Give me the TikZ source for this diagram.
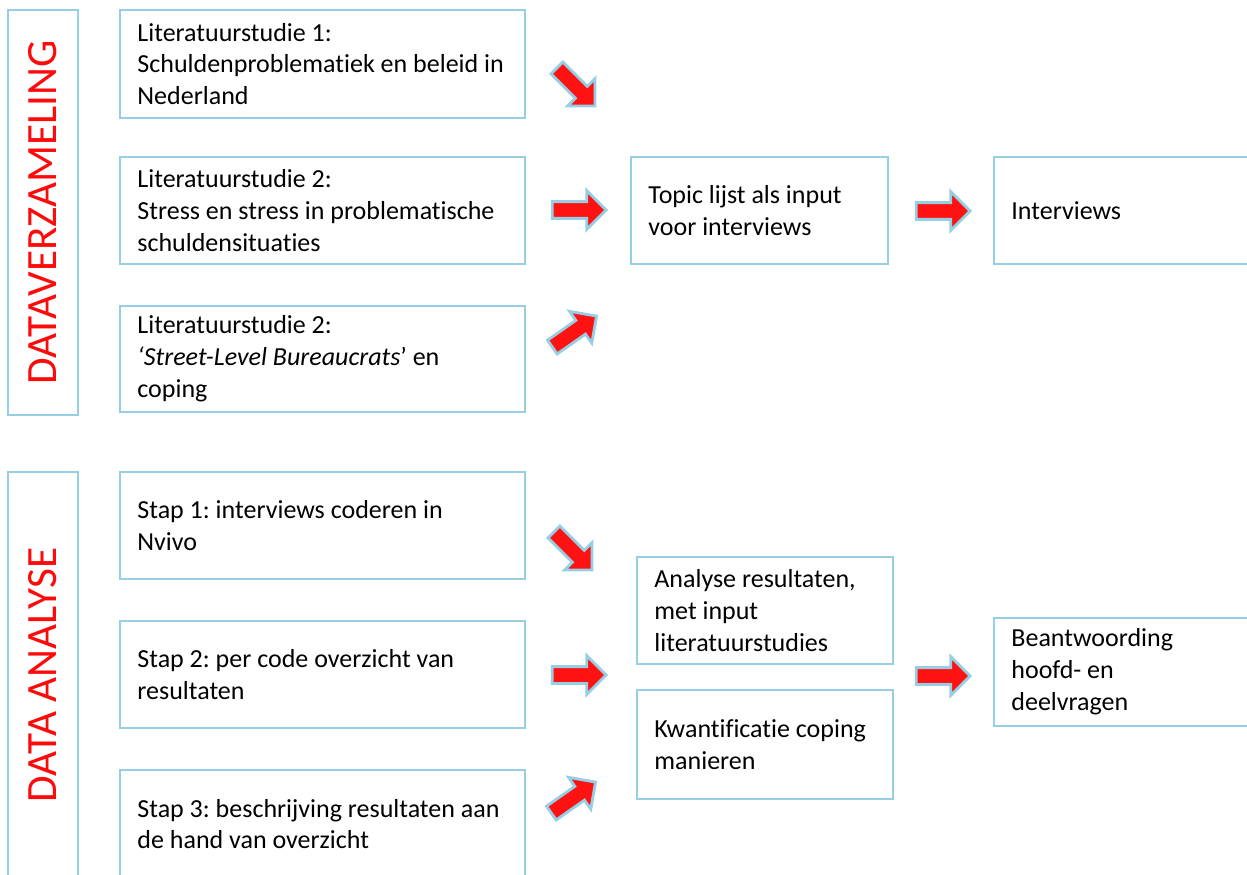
\documentclass[tikz,border=0pt]{standalone}
\usepackage{fontspec}
\setmainfont{Carlito}[Ligatures=NoCommon]
\usetikzlibrary{shapes.arrows}
\definecolor{rand}{RGB}{150,206,228}
\definecolor{pijlrood}{RGB}{255,18,18}
\definecolor{koprood}{RGB}{255,10,10}
\frenchspacing

\begin{document}
\begin{tikzpicture}[x=0.02cm,y=-0.02cm,
  vak/.style={draw=rand,line width=1.1pt,fill=white,minimum height=2.14cm},
  breed/.style={vak,minimum width=8.1cm},
  smal/.style={vak,minimum width=5.14cm},
  tekst/.style={anchor=west,align=left,inner sep=0pt,
    font=\fontsize{14.8}{18.1}\selectfont},
  zijvak/.style={draw=rand,line width=1.1pt,minimum width=1.4cm},
  zijtekst/.style={text=koprood,font=\fontsize{24.6}{28}\selectfont,rotate=90},
  pijl/.style={single arrow,draw=rand,fill=pijlrood,line width=1.6pt,
    inner xsep=0pt,inner ysep=0.14cm,minimum height=1.08cm,
    single arrow head extend=0.22cm,single arrow tip angle=90}]
  \useasboundingbox (0,0) rectangle (1247,875);
  \clip (0,0) rectangle (1247,875);

  % dataverzameling
  \node[zijvak,minimum height=8.1cm] (verz) at (43,212.5) {};
  \node[zijtekst] (verzlabel) at (verz.center) {DATAVERZAMELING};
  \node[breed,minimum height=2.16cm] (lit1) at (322.5,64) {};
  \node[tekst] (lit1t) at ([xshift=0.36cm]lit1.west) {Literatuurstudie 1:\\Schuldenproblematiek en beleid in\\Nederland};
  \node[breed] (lit2) at (322.5,210.5) {};
  \node[tekst] (lit2t) at ([xshift=0.36cm]lit2.west) {Literatuurstudie 2:\\Stress en stress in problematische\\schuldensituaties};
  \node[breed,minimum height=2.12cm] (lit3) at (322.5,359) {};
  \node[tekst] (lit3t) at ([xshift=0.36cm]lit3.west) {Literatuurstudie 2:\\\textit{‘Street-Level Bureaucrats}’ en\\coping};
  \node[smal] (topic) at (759.5,210.5) {};
  \node[tekst] (topict) at ([xshift=0.36cm]topic.west) {Topic lijst als input\\voor interviews};
  \node[vak,minimum width=5.32cm] (interv) at (1127,210.5) {};
  \node[tekst] (intervt) at ([xshift=0.36cm]interv.west) {Interviews};
  \node[pijl,rotate=-45] (p1) at (573,84) {};
  \node[pijl] (p2) at (575,210) {};
  \node[pijl,rotate=35] (p3) at (571,334) {};
  \node[pijl] (p4) at (939,211) {};

  % data analyse
  \node[zijvak,minimum height=8.12cm] (anal) at (43,675) {};
  \node[zijtekst] (anallabel) at (anal.center) {DATA ANALYSE};
  \node[breed] (stap1) at (322.5,525.5) {};
  \node[tekst] (stap1t) at ([xshift=0.36cm]stap1.west) {Stap 1: interviews coderen in\\Nvivo};
  \node[breed] (stap2) at (322.5,674.5) {};
  \node[tekst] (stap2t) at ([xshift=0.36cm]stap2.west) {Stap 2: per code overzicht van\\resultaten};
  \node[breed,minimum height=2.16cm] (stap3) at (322.5,824) {};
  \node[tekst] (stap3t) at ([xshift=0.36cm]stap3.west) {Stap 3: beschrijving resultaten aan\\de hand van overzicht};
  \node[vak,minimum width=5.12cm] (res) at (765,610.5) {};
  \node[tekst] (rest) at ([xshift=0.36cm]res.west) {Analyse resultaten,\\met input\\literatuurstudies};
  \node[vak,minimum width=5.12cm,minimum height=2.18cm] (kwant) at (765,744.5) {};
  \node[tekst] (kwantt) at ([xshift=0.36cm]kwant.west) {Kwantificatie coping\\manieren};
  \node[vak,minimum width=5.32cm,minimum height=2.16cm] (beant) at (1127,672) {};
  \node[tekst] (beantt) at ([xshift=0.36cm]beant.west) {Beantwoording\\hoofd- en\\deelvragen};
  \node[pijl,rotate=-45] (p5) at (570,548) {};
  \node[pijl] (p6) at (575,675) {};
  \node[pijl,rotate=35] (p7) at (570,800) {};
  \node[pijl] (p8) at (939,676) {};
\end{tikzpicture}
\end{document}
